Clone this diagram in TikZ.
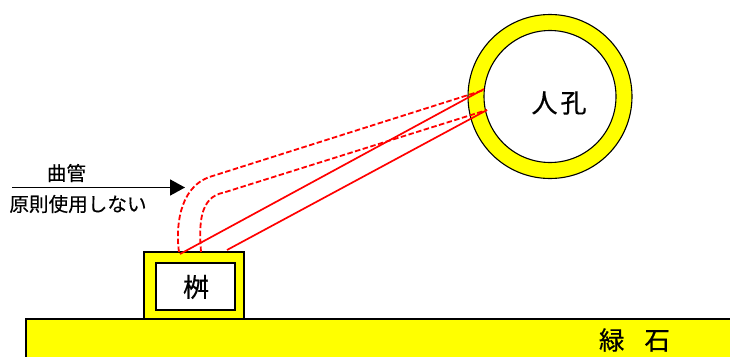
\documentclass[tikz,border=0pt]{standalone}
\usepackage{fontspec}
\setmainfont{Noto Sans CJK JP}[FakeBold=0.25]
\newfontfamily\cjkheavy{Noto Sans CJK JP}[FakeStretch=1.0,FakeBold=0.6]
\usetikzlibrary{arrows.meta}
\definecolor{ky}{RGB}{255,255,0}
\tikzset{
  ring/.style={circle,draw=black,line width=1.1pt,fill=ky,inner sep=0,outer sep=0},
  hole/.style={circle,draw=black,line width=1.1pt,fill=white,inner sep=0,outer sep=0},
  solidpipe/.style={draw=red,line width=1.7pt},
  dashpipe/.style={draw=red,line width=1.8pt,dash pattern=on 5.5pt off 2.5pt},
  lbl/.style={inner sep=0,outer sep=0,text=black},
  frame/.style={draw=black,line width=1.2pt,rectangle,inner sep=0,outer sep=0}
}
\begin{document}
\begin{tikzpicture}[x=1pt,y=-1pt]
\useasboundingbox (0,0) rectangle (730,356);
% curb
\fill[ky] (26,319) rectangle (731,357);
\draw[black,line width=1.2pt] (26,357) -- (26,319) -- (731,319);
\node[lbl,font=\fontsize{25.5}{25.5}\cjkheavy] (curb) at (634.5,340) {緑\hspace{20pt}石};
% catch basin
\node[frame,fill=ky,minimum width=100pt,minimum height=67pt] (masuo) at (194,285.5) {};
\node[frame,fill=white,minimum width=79pt,minimum height=47pt] (masui) at (195.5,286.5) {};
\node[lbl,font=\fontsize{26}{26}\cjkheavy] (masutxt) at (196,287) {桝};
% manhole
\node[ring,minimum size=164pt] (mo) at (550,96.5) {};
\node[hole,minimum size=132pt] (mi) at (550,96.5) {};
\node[lbl,font=\fontsize{26}{26}\cjkheavy] (mtxt) at (559,103) {人\hspace{3pt}孔};
% pipe end points
\coordinate (a1) at (180,254);
\coordinate (b1) at (484,89);
\coordinate (a2) at (227,250);
\coordinate (b2) at (487,110);
\coordinate (c1) at (179,252);
\coordinate (d1) at (484,90);
\coordinate (c2) at (201,252);
\coordinate (d2) at (487,110);
\draw[solidpipe] (a1) -- (b1);
\draw[solidpipe] (a2) -- (b2);
\draw[dashpipe] (c1) .. controls (176,232) and (177,187) .. (211,176.5) -- (d1);
\draw[dashpipe] (c2) .. controls (199,225) and (199,197) .. (224,192.5) -- (d2);
% arrow and its labels
\coordinate (s) at (12,187.5);
\coordinate (t) at (185,187.5);
\draw[black,line width=1.7pt,-{Triangle[length=15pt,width=16pt]}] (s) -- (t);
\node[lbl,font=\fontsize{19.5}{19.5}\selectfont] (t1) at (66.5,173) {曲管};
\node[lbl,font=\fontsize{19.6}{19.6}\selectfont] (t2) at (78,204) {原則使用しない};
\end{tikzpicture}
\end{document}
